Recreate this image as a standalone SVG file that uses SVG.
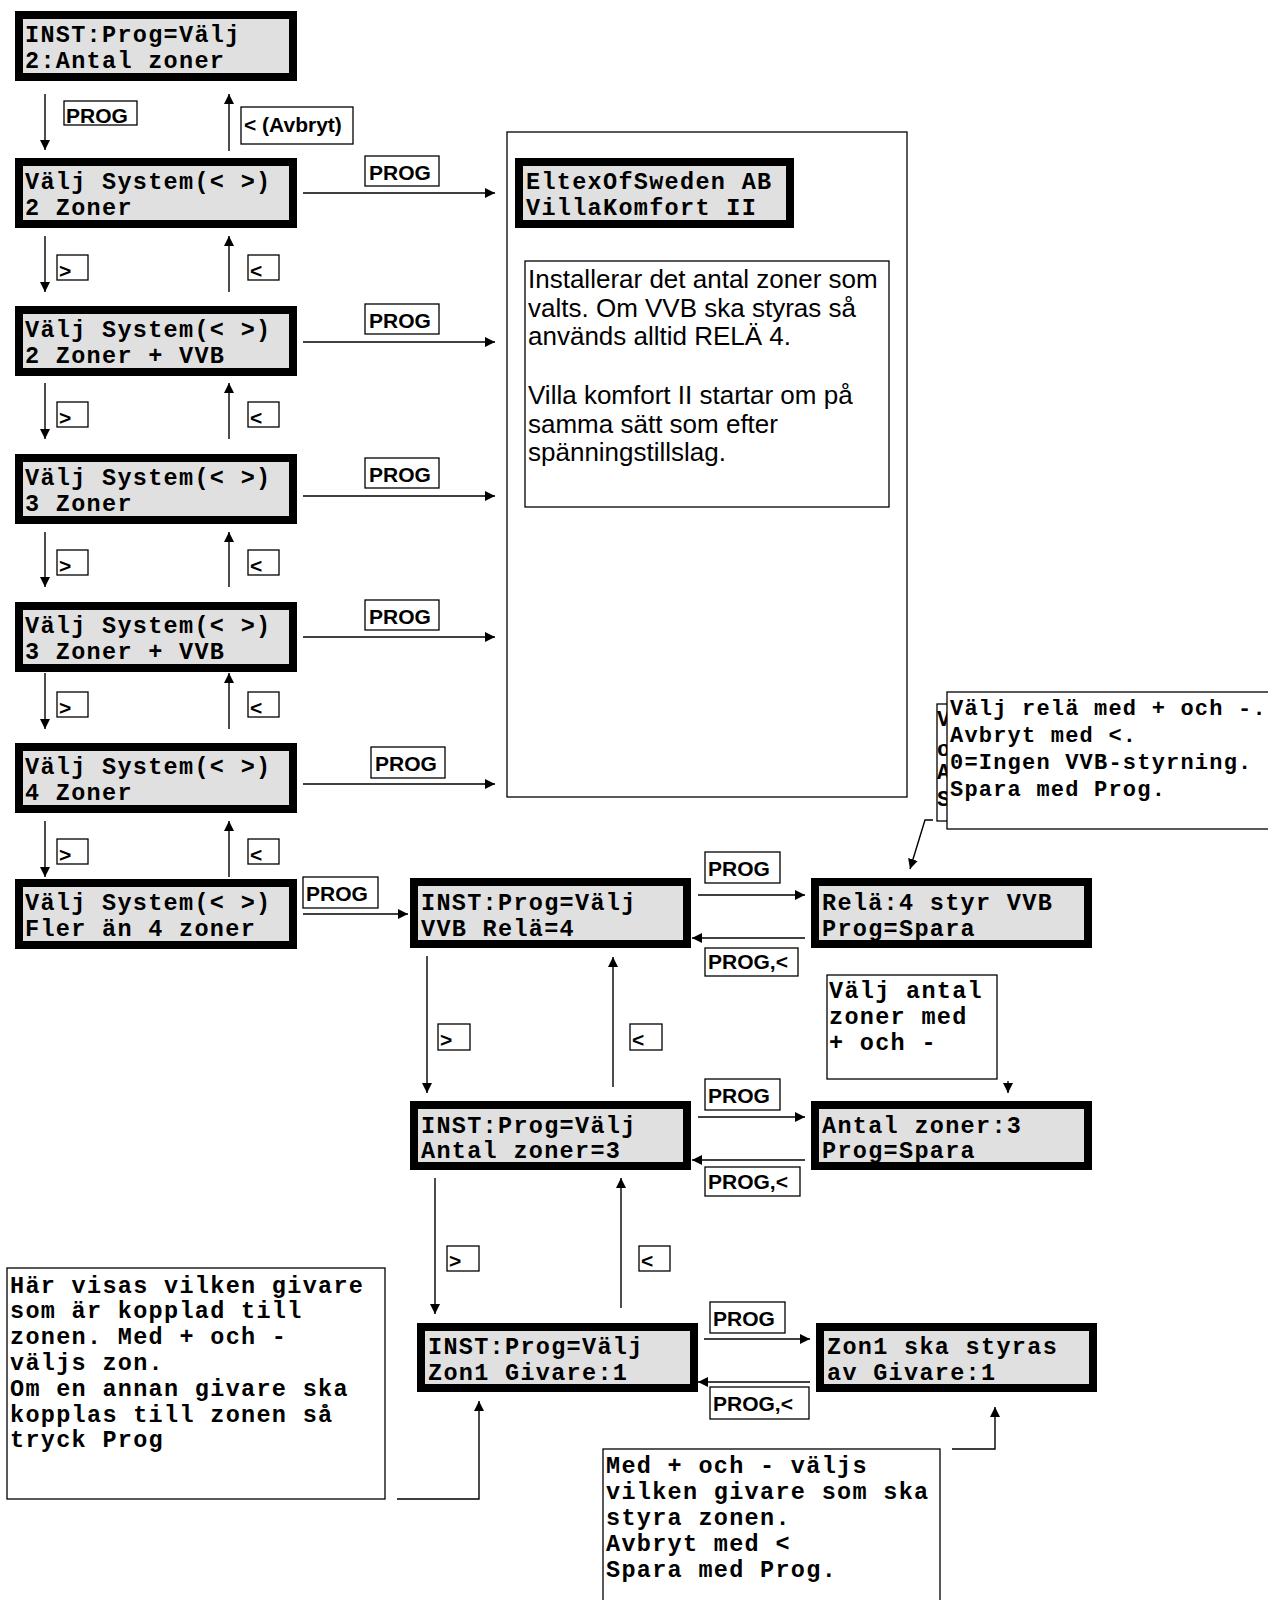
<svg xmlns="http://www.w3.org/2000/svg" width="1268" height="1600" viewBox="0 0 1268 1600">
<style>
.bg{fill:#fff}
.lcd{fill:#e0e0e0;stroke:#000;stroke-width:8}
.m{font-family:"Liberation Mono","Courier New",monospace;font-weight:bold;font-size:23.5px;letter-spacing:1.3px;fill:#000}
.ms{font-family:"Liberation Mono","Courier New",monospace;font-weight:bold;font-size:22px;letter-spacing:1.2px;fill:#000}
.s{font-family:"Liberation Sans",Arial,sans-serif;font-size:26px;fill:#000}
.lb{fill:#fff;stroke:#000;stroke-width:1.3}
.lt{font-family:"Liberation Sans",Arial,sans-serif;font-weight:bold;font-size:21px;fill:#000}
.nt{fill:#fff;stroke:#000;stroke-width:1.3}
.ln{fill:none;stroke:#000;stroke-width:1.4}
</style>
<defs>
<marker id="ah" viewBox="0 0 10 10" refX="10" refY="5" markerWidth="10" markerHeight="10" markerUnits="userSpaceOnUse" orient="auto"><path d="M0,0 L10,5 L0,10 z" fill="#000"/></marker>
<clipPath id="backclip"><rect x="930" y="690" width="17" height="140"/></clipPath>
</defs>
<rect class="bg" x="0" y="0" width="1268" height="1600"/>

<g id="connectors">
<line class="ln" x1="45" y1="94" x2="45" y2="150" marker-end="url(#ah)"/>
<line class="ln" x1="229" y1="151" x2="229" y2="94" marker-end="url(#ah)"/>
<line class="ln" x1="45" y1="236" x2="45" y2="292" marker-end="url(#ah)"/>
<line class="ln" x1="229" y1="292" x2="229" y2="236" marker-end="url(#ah)"/>
<line class="ln" x1="45" y1="383" x2="45" y2="439" marker-end="url(#ah)"/>
<line class="ln" x1="229" y1="439" x2="229" y2="383" marker-end="url(#ah)"/>
<line class="ln" x1="45" y1="532" x2="45" y2="587" marker-end="url(#ah)"/>
<line class="ln" x1="229" y1="587" x2="229" y2="532" marker-end="url(#ah)"/>
<line class="ln" x1="45" y1="673" x2="45" y2="729" marker-end="url(#ah)"/>
<line class="ln" x1="229" y1="729" x2="229" y2="673" marker-end="url(#ah)"/>
<line class="ln" x1="45" y1="821" x2="45" y2="877" marker-end="url(#ah)"/>
<line class="ln" x1="229" y1="877" x2="229" y2="821" marker-end="url(#ah)"/>
<line class="ln" x1="303" y1="193" x2="495" y2="193" marker-end="url(#ah)"/>
<line class="ln" x1="303" y1="342" x2="495" y2="342" marker-end="url(#ah)"/>
<line class="ln" x1="303" y1="496" x2="495" y2="496" marker-end="url(#ah)"/>
<line class="ln" x1="303" y1="637" x2="495" y2="637" marker-end="url(#ah)"/>
<line class="ln" x1="303" y1="784" x2="495" y2="784" marker-end="url(#ah)"/>
<line class="ln" x1="303" y1="914" x2="408" y2="914" marker-end="url(#ah)"/>
<line class="ln" x1="698" y1="895" x2="805" y2="895" marker-end="url(#ah)"/>
<line class="ln" x1="805" y1="938" x2="692" y2="938" marker-end="url(#ah)"/>
<line class="ln" x1="427" y1="956" x2="427" y2="1093" marker-end="url(#ah)"/>
<line class="ln" x1="613" y1="1087" x2="613" y2="957" marker-end="url(#ah)"/>
<line class="ln" x1="1008" y1="1081" x2="1008" y2="1093" marker-end="url(#ah)"/>
<line class="ln" x1="698" y1="1117" x2="805" y2="1117" marker-end="url(#ah)"/>
<line class="ln" x1="805" y1="1160" x2="692" y2="1160" marker-end="url(#ah)"/>
<line class="ln" x1="435" y1="1178" x2="435" y2="1314" marker-end="url(#ah)"/>
<line class="ln" x1="621" y1="1308" x2="621" y2="1178" marker-end="url(#ah)"/>
<line class="ln" x1="704" y1="1339" x2="810" y2="1339" marker-end="url(#ah)"/>
<line class="ln" x1="810" y1="1382" x2="698" y2="1382" marker-end="url(#ah)"/>
<polyline class="ln" points="397,1499 479,1499 479,1401" marker-end="url(#ah)"/>
<polyline class="ln" points="952,1449 995,1449 995,1407" marker-end="url(#ah)"/>
<polyline class="ln" points="933,820 925,820 910,869" marker-end="url(#ah)"/>
</g>

<g id="labels">
<rect class="lb" x="64" y="101" width="73" height="24"/><text class="lt" x="66" y="123">PROG</text>
<rect class="lb" x="241" y="107" width="112" height="37"/><text class="lt" x="244" y="132">&lt; (Avbryt)</text>
<rect class="lb" x="57" y="255" width="31" height="25"/><text class="lt" x="59" y="278">&gt;</text>
<rect class="lb" x="248" y="255" width="31" height="25"/><text class="lt" x="250" y="278">&lt;</text>
<rect class="lb" x="57" y="402" width="31" height="25"/><text class="lt" x="59" y="425">&gt;</text>
<rect class="lb" x="248" y="402" width="31" height="25"/><text class="lt" x="250" y="425">&lt;</text>
<rect class="lb" x="57" y="550" width="31" height="25"/><text class="lt" x="59" y="573">&gt;</text>
<rect class="lb" x="248" y="550" width="31" height="25"/><text class="lt" x="250" y="573">&lt;</text>
<rect class="lb" x="57" y="692" width="31" height="25"/><text class="lt" x="59" y="715">&gt;</text>
<rect class="lb" x="248" y="692" width="31" height="25"/><text class="lt" x="250" y="715">&lt;</text>
<rect class="lb" x="57" y="839" width="31" height="25"/><text class="lt" x="59" y="862">&gt;</text>
<rect class="lb" x="248" y="839" width="31" height="25"/><text class="lt" x="250" y="862">&lt;</text>
<rect class="lb" x="365" y="156" width="74" height="30"/><text class="lt" x="369" y="180">PROG</text>
<rect class="lb" x="365" y="304" width="74" height="30"/><text class="lt" x="369" y="328">PROG</text>
<rect class="lb" x="365" y="458" width="74" height="30"/><text class="lt" x="369" y="482">PROG</text>
<rect class="lb" x="365" y="600" width="74" height="30"/><text class="lt" x="369" y="624">PROG</text>
<rect class="lb" x="371" y="747" width="74" height="31"/><text class="lt" x="375" y="771">PROG</text>
<rect class="lb" x="303" y="877" width="75" height="31"/><text class="lt" x="306" y="901">PROG</text>
<rect class="lb" x="705" y="852" width="75" height="31"/><text class="lt" x="708" y="876">PROG</text>
<rect class="lb" x="705" y="948" width="93" height="28"/><text class="lt" x="708" y="969">PROG,&lt;</text>
<rect class="lb" x="438" y="1024" width="32" height="26"/><text class="lt" x="440" y="1047">&gt;</text>
<rect class="lb" x="630" y="1024" width="32" height="26"/><text class="lt" x="632" y="1047">&lt;</text>
<rect class="lb" x="705" y="1079" width="75" height="31"/><text class="lt" x="708" y="1103">PROG</text>
<rect class="lb" x="705" y="1167" width="95" height="29"/><text class="lt" x="708" y="1189">PROG,&lt;</text>
<rect class="lb" x="447" y="1246" width="32" height="25"/><text class="lt" x="449" y="1268">&gt;</text>
<rect class="lb" x="639" y="1246" width="31" height="25"/><text class="lt" x="641" y="1268">&lt;</text>
<rect class="lb" x="710" y="1302" width="75" height="31"/><text class="lt" x="713" y="1326">PROG</text>
<rect class="lb" x="710" y="1387" width="99" height="32"/><text class="lt" x="713" y="1411">PROG,&lt;</text>
</g>

<g id="n-inst"><rect class="lcd" x="19" y="15" width="274" height="62"/><text class="m" x="25" y="42">INST:Prog=Välj</text><text class="m" x="25" y="68">2:Antal zoner</text></g>
<g id="n-2z"><rect class="lcd" x="19" y="162" width="274" height="62"/><text class="m" x="25" y="189">Välj System(&lt; &gt;)</text><text class="m" x="25" y="215">2 Zoner</text></g>
<g id="n-2zv"><rect class="lcd" x="19" y="310" width="274" height="62"/><text class="m" x="25" y="337">Välj System(&lt; &gt;)</text><text class="m" x="25" y="363">2 Zoner + VVB</text></g>
<g id="n-3z"><rect class="lcd" x="19" y="458" width="274" height="62"/><text class="m" x="25" y="485">Välj System(&lt; &gt;)</text><text class="m" x="25" y="511">3 Zoner</text></g>
<g id="n-3zv"><rect class="lcd" x="19" y="606" width="274" height="62"/><text class="m" x="25" y="633">Välj System(&lt; &gt;)</text><text class="m" x="25" y="659">3 Zoner + VVB</text></g>
<g id="n-4z"><rect class="lcd" x="19" y="747" width="274" height="62"/><text class="m" x="25" y="774">Välj System(&lt; &gt;)</text><text class="m" x="25" y="800">4 Zoner</text></g>
<g id="n-fler"><rect class="lcd" x="19" y="883" width="274" height="62"/><text class="m" x="25" y="910">Välj System(&lt; &gt;)</text><text class="m" x="25" y="936">Fler än 4 zoner</text></g>

<g id="n-restart">
<rect class="nt" x="507" y="132" width="400" height="665"/>
<rect class="lcd" x="519" y="162" width="271" height="62"/><text class="m" x="526" y="189">EltexOfSweden AB</text><text class="m" x="526" y="215">VillaKomfort II</text>
<rect class="nt" x="525" y="261" width="364" height="246"/>
<text class="s" x="528" y="288">Installerar det antal zoner som</text>
<text class="s" x="528" y="317">valts. Om VVB ska styras så</text>
<text class="s" x="528" y="345">används alltid RELÄ 4.</text>
<text class="s" x="528" y="404">Villa komfort II startar om på</text>
<text class="s" x="528" y="433">samma sätt som efter</text>
<text class="s" x="528" y="461">spänningstillslag.</text>
</g>

<g id="n-vvbsel"><rect class="lcd" x="414" y="882" width="273" height="62"/><text class="m" x="421" y="910">INST:Prog=Välj</text><text class="m" x="421" y="936">VVB Relä=4</text></g>
<g id="n-rela"><rect class="lcd" x="815" y="882" width="273" height="62"/><text class="m" x="822" y="910">Relä:4 styr VVB</text><text class="m" x="822" y="936">Prog=Spara</text></g>
<g id="n-antalsel"><rect class="lcd" x="414" y="1105" width="273" height="61"/><text class="m" x="421" y="1133">INST:Prog=Välj</text><text class="m" x="421" y="1158">Antal zoner=3</text></g>
<g id="n-antal"><rect class="lcd" x="815" y="1105" width="273" height="61"/><text class="m" x="822" y="1133">Antal zoner:3</text><text class="m" x="822" y="1158">Prog=Spara</text></g>
<g id="n-zonsel"><rect class="lcd" x="421" y="1327" width="273" height="61"/><text class="m" x="428" y="1354">INST:Prog=Välj</text><text class="m" x="428" y="1380">Zon1 Givare:1</text></g>
<g id="n-zon"><rect class="lcd" x="820" y="1327" width="273" height="61"/><text class="m" x="827" y="1354">Zon1 ska styras</text><text class="m" x="827" y="1380">av Givare:1</text></g>

<g id="note-antal"><rect class="nt" x="827" y="975" width="170" height="104"/><text class="m" x="829" y="998">Välj antal</text><text class="m" x="829" y="1024">zoner med</text><text class="m" x="829" y="1050">+ och -</text></g>

<g id="note-rela-back"><rect class="nt" x="937" y="704" width="60" height="117"/>
<g clip-path="url(#backclip)"><text class="ms" x="937" y="726">V</text><text class="ms" x="937" y="756">o</text><text class="ms" x="937" y="779">A</text><text class="ms" x="937" y="806">S</text></g></g>
<g id="note-rela"><rect class="nt" x="947" y="692" width="330" height="137"/>
<text class="ms" x="950" y="715">Välj relä med + och -.</text>
<text class="ms" x="950" y="742">Avbryt med &lt;.</text>
<text class="ms" x="950" y="769">0=Ingen VVB-styrning.</text>
<text class="ms" x="950" y="796">Spara med Prog.</text></g>

<g id="note-givare"><rect class="nt" x="7" y="1268" width="378" height="231"/>
<text class="m" x="10" y="1293">Här visas vilken givare</text>
<text class="m" x="10" y="1318">som är kopplad till</text>
<text class="m" x="10" y="1344">zonen. Med + och -</text>
<text class="m" x="10" y="1370">väljs zon.</text>
<text class="m" x="10" y="1396">Om en annan givare ska</text>
<text class="m" x="10" y="1422">kopplas till zonen så</text>
<text class="m" x="10" y="1447">tryck Prog</text></g>

<g id="note-med"><rect class="nt" x="603" y="1449" width="337" height="160"/>
<text class="m" x="606" y="1473">Med + och - väljs</text>
<text class="m" x="606" y="1499">vilken givare som ska</text>
<text class="m" x="606" y="1525">styra zonen.</text>
<text class="m" x="606" y="1551">Avbryt med &lt;</text>
<text class="m" x="606" y="1577">Spara med Prog.</text></g>
</svg>
